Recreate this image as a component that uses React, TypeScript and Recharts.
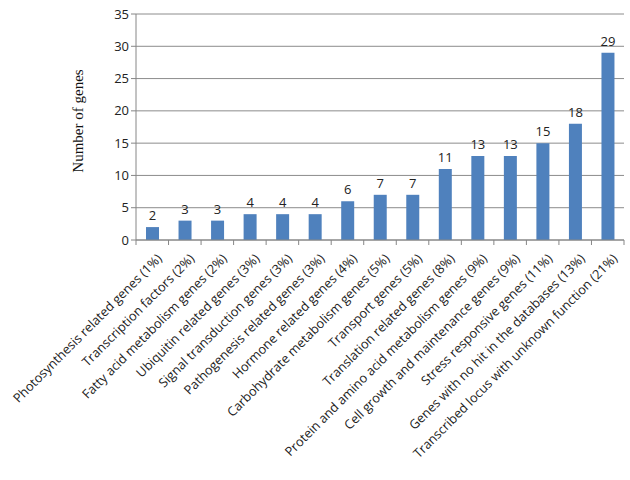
import { BarChart, Bar, XAxis, YAxis, CartesianGrid, LabelList } from 'recharts';

const categories = [
  'Photosynthesis related genes (1%)',
  'Transcription factors (2%)',
  'Fatty acid metabolism genes (2%)',
  'Ubiquitin related genes (3%)',
  'Signal transduction genes (3%)',
  'Pathogenesis related genes (3%)',
  'Hormone related genes (4%)',
  'Carbohydrate metabolism genes (5%)',
  'Transport genes (5%)',
  'Translation related genes (8%)',
  'Protein and amino acid metabolism genes (9%)',
  'Cell growth and maintenance genes (9%)',
  'Stress responsive genes (11%)',
  'Genes with no hit in the databases (13%)',
  'Transcribed locus with unknown function (21%)',
];
const geneCounts = [2, 3, 3, 4, 4, 4, 6, 7, 7, 11, 13, 13, 15, 18, 29];
const yTicks = [0, 5, 10, 15, 20, 25, 30, 35];

const data = categories.map((name, i) => ({ name, value: geneCounts[i] }));

const FONT = '"Open Sans", sans-serif';
const PLOT_LEFT = 136;
const PLOT_RIGHT = 624;
const HALF_BAND = (PLOT_RIGHT - PLOT_LEFT) / categories.length / 2;

function CategoryTick(props: any) {
  const { x, y, payload, index } = props;
  return (
    <g>
      {index === 0 && (
        <line x1={x - HALF_BAND} x2={x - HALF_BAND} y1={y - 8} y2={y - 3} stroke="#868686" />
      )}
      <line x1={x + HALF_BAND} x2={x + HALF_BAND} y1={y - 8} y2={y - 3} stroke="#868686" />
      <text
        transform={`translate(${x + 4},${y + 5}) rotate(-45)`}
        textAnchor="end"
        fontFamily={FONT}
        fontSize={12.8}
        fill="#222"
        dy="0.71em"
      >
        {payload.value}
      </text>
    </g>
  );
}

export default function App() {
  return (
    <div style={{ position: 'absolute', left: 0, top: 0, background: '#fff' }}>
      <BarChart
        width={630}
        height={480}
        data={data}
        margin={{ top: 14, right: 6, left: 96, bottom: 10 }}
        barCategoryGap={0}
      >
        <CartesianGrid vertical={false} stroke="#8c8c8c" />
        <XAxis
          dataKey="name"
          interval={0}
          height={230}
          tick={<CategoryTick />}
          tickLine={false}
          stroke="#868686"
        />
        <YAxis
          domain={[0, 35]}
          ticks={yTicks}
          width={40}
          stroke="#868686"
          tickSize={5}
          tick={{ fontFamily: FONT, fontSize: 13, fill: '#222' }}
          label={{
            content: () => (
              <text
                x={78}
                y={121}
                transform="rotate(-90 78 121)"
                textAnchor="middle"
                dy="0.35em"
                fontFamily='"Liberation Serif", "Times New Roman", serif'
                fontSize={15}
                fill="#111"
              >
                Number of genes
              </text>
            ),
          }}
        />
        <Bar dataKey="value" fill="#4F81BD" barSize={13} isAnimationActive={false}>
          <LabelList
            dataKey="value"
            position="top"
            offset={7}
            style={{ fontFamily: FONT, fontSize: 13, fill: '#222' }}
          />
        </Bar>
      </BarChart>
    </div>
  );
}
